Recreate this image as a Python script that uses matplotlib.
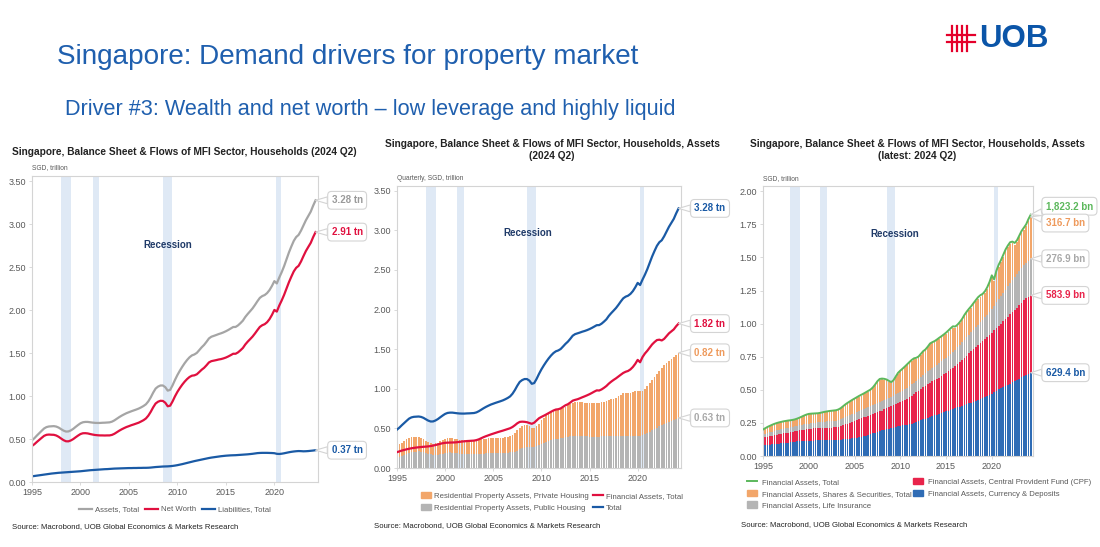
import numpy as np
import matplotlib.pyplot as plt
from matplotlib.lines import Line2D
from matplotlib.patches import Patch

plt.rcParams['font.family'] = ['Liberation Sans', 'DejaVu Sans']

# quarterly data, 1995 Q1 .. 2024 Q2, SGD trillion
first_year = 1995

liabilities = [
    0.066, 0.070, 0.074, 0.078,  # 1995
    0.082, 0.086, 0.090, 0.094,
    0.098, 0.101, 0.104, 0.107,
    0.109, 0.111, 0.113, 0.115,
    0.117, 0.119, 0.121, 0.123,
    0.125, 0.128, 0.131, 0.134,  # 2000
    0.137, 0.139, 0.141, 0.143,
    0.145, 0.147, 0.149, 0.150,
    0.152, 0.154, 0.156, 0.157,
    0.158, 0.159, 0.160, 0.161,
    0.162, 0.162, 0.163, 0.163,  # 2005
    0.164, 0.164, 0.165, 0.165,
    0.166, 0.168, 0.171, 0.174,
    0.176, 0.178, 0.180, 0.181,
    0.182, 0.184, 0.187, 0.191,
    0.196, 0.202, 0.208, 0.215,  # 2010
    0.222, 0.229, 0.236, 0.243,
    0.249, 0.255, 0.261, 0.267,
    0.273, 0.279, 0.284, 0.288,
    0.292, 0.296, 0.300, 0.303,
    0.306, 0.308, 0.310, 0.311,  # 2015
    0.312, 0.314, 0.316, 0.318,
    0.320, 0.322, 0.325, 0.328,
    0.332, 0.336, 0.338, 0.339,
    0.339, 0.339, 0.338, 0.337,
    0.335, 0.328, 0.326, 0.329,  # 2020
    0.334, 0.340, 0.346, 0.351,
    0.355, 0.358, 0.360, 0.359,
    0.357, 0.358, 0.360, 0.363,
    0.366, 0.370,
]

fin_total = [
    0.200, 0.210, 0.220, 0.228,  # 1995
    0.236, 0.243, 0.249, 0.254,
    0.258, 0.262, 0.265, 0.268,
    0.270, 0.273, 0.277, 0.283,
    0.290, 0.298, 0.306, 0.313,
    0.318, 0.320, 0.321, 0.322,  # 2000
    0.323, 0.326, 0.330, 0.334,
    0.337, 0.340, 0.342, 0.344,
    0.346, 0.352, 0.362, 0.376,
    0.390, 0.402, 0.413, 0.424,
    0.434, 0.444, 0.454, 0.463,  # 2005
    0.472, 0.482, 0.492, 0.502,
    0.518, 0.540, 0.565, 0.582,
    0.585, 0.583, 0.578, 0.568,
    0.558, 0.572, 0.600, 0.628,
    0.645, 0.660, 0.676, 0.693,  # 2010
    0.710, 0.726, 0.738, 0.742,
    0.752, 0.772, 0.792, 0.805,
    0.826, 0.850, 0.860, 0.868,
    0.880, 0.893, 0.905, 0.918,
    0.932, 0.948, 0.965, 0.980,  # 2015
    0.978, 0.992, 1.012, 1.035,
    1.065, 1.090, 1.112, 1.132,
    1.155, 1.178, 1.200, 1.215,
    1.225, 1.245, 1.275, 1.315,
    1.365, 1.335, 1.400, 1.445,  # 2020
    1.480, 1.520, 1.560, 1.590,
    1.615, 1.620, 1.610, 1.630,
    1.665, 1.700, 1.725, 1.750,
    1.790, 1.8232,
]

public_housing = [
    0.125, 0.140, 0.155, 0.170,  # 1995
    0.182, 0.192, 0.200, 0.205,
    0.208, 0.210, 0.208, 0.202,
    0.192, 0.182, 0.175, 0.170,
    0.168, 0.170, 0.175, 0.182,
    0.190, 0.195, 0.196, 0.194,  # 2000
    0.190, 0.186, 0.182, 0.180,
    0.178, 0.177, 0.176, 0.176,
    0.176, 0.177, 0.178, 0.180,
    0.182, 0.184, 0.186, 0.188,
    0.190, 0.191, 0.192, 0.192,  # 2005
    0.192, 0.193, 0.194, 0.196,
    0.200, 0.208, 0.220, 0.235,
    0.248, 0.258, 0.265, 0.268,
    0.268, 0.270, 0.278, 0.288,
    0.300, 0.315, 0.330, 0.342,  # 2010
    0.352, 0.360, 0.367, 0.372,
    0.376, 0.381, 0.386, 0.392,
    0.398, 0.404, 0.408, 0.408,
    0.406, 0.403, 0.400, 0.398,
    0.396, 0.395, 0.395, 0.396,  # 2015
    0.397, 0.398, 0.399, 0.400,
    0.400, 0.400, 0.401, 0.402,
    0.404, 0.406, 0.406, 0.405,
    0.404, 0.404, 0.405, 0.406,
    0.408, 0.410, 0.415, 0.425,  # 2020
    0.440, 0.458, 0.478, 0.495,
    0.510, 0.524, 0.537, 0.550,
    0.562, 0.575, 0.590, 0.605,
    0.618, 0.632,
]

private_housing = [
    0.160, 0.160, 0.165, 0.170,  # 1995
    0.178, 0.188, 0.190, 0.187,
    0.182, 0.178, 0.172, 0.163,
    0.153, 0.143, 0.135, 0.135,
    0.142, 0.150, 0.160, 0.168,
    0.175, 0.180, 0.182, 0.183,  # 2000
    0.182, 0.179, 0.176, 0.173,
    0.172, 0.172, 0.172, 0.172,
    0.172, 0.173, 0.177, 0.180,
    0.183, 0.186, 0.188, 0.189,
    0.188, 0.188, 0.187, 0.188,  # 2005
    0.190, 0.193, 0.198, 0.206,
    0.220, 0.237, 0.255, 0.270,
    0.277, 0.282, 0.280, 0.267,
    0.237, 0.230, 0.247, 0.272,
    0.300, 0.320, 0.335, 0.348,  # 2010
    0.358, 0.365, 0.368, 0.370,
    0.374, 0.381, 0.389, 0.398,
    0.407, 0.416, 0.422, 0.424,
    0.424, 0.425, 0.425, 0.425,
    0.426, 0.426, 0.426, 0.427,  # 2015
    0.429, 0.432, 0.437, 0.442,
    0.455, 0.465, 0.474, 0.486,
    0.501, 0.519, 0.536, 0.543,
    0.546, 0.549, 0.553, 0.560,
    0.564, 0.565, 0.563, 0.570,  # 2020
    0.590, 0.612, 0.632, 0.655,
    0.680, 0.706, 0.728, 0.745,
    0.758, 0.770, 0.780, 0.790,
    0.807, 0.822,
]

deposits = [
    0.080, 0.082, 0.084, 0.086,  # 1995
    0.088, 0.090, 0.092, 0.094,
    0.096, 0.098, 0.100, 0.102,
    0.104, 0.106, 0.108, 0.110,
    0.111, 0.112, 0.113, 0.114,
    0.115, 0.116, 0.117, 0.118,  # 2000
    0.118, 0.118, 0.118, 0.118,
    0.118, 0.118, 0.119, 0.120,
    0.121, 0.122, 0.123, 0.125,
    0.127, 0.129, 0.131, 0.133,
    0.135, 0.138, 0.141, 0.145,  # 2005
    0.149, 0.154, 0.159, 0.165,
    0.171, 0.177, 0.183, 0.189,
    0.194, 0.199, 0.203, 0.207,
    0.211, 0.215, 0.219, 0.223,
    0.227, 0.231, 0.234, 0.237,  # 2010
    0.240, 0.245, 0.251, 0.258,
    0.265, 0.271, 0.277, 0.283,
    0.289, 0.295, 0.301, 0.307,
    0.313, 0.319, 0.325, 0.331,
    0.337, 0.343, 0.349, 0.355,  # 2015
    0.361, 0.367, 0.373, 0.379,
    0.385, 0.391, 0.397, 0.403,
    0.410, 0.417, 0.424, 0.431,
    0.438, 0.446, 0.454, 0.462,
    0.472, 0.484, 0.494, 0.503,  # 2020
    0.512, 0.521, 0.530, 0.539,
    0.547, 0.556, 0.565, 0.574,
    0.584, 0.594, 0.604, 0.613,
    0.621, 0.6294,
]

cpf = [
    0.058, 0.060, 0.062, 0.064,  # 1995
    0.066, 0.068, 0.070, 0.071,
    0.072, 0.073, 0.074, 0.075,
    0.076, 0.078, 0.080, 0.082,
    0.084, 0.086, 0.087, 0.088,
    0.089, 0.090, 0.091, 0.092,  # 2000
    0.093, 0.093, 0.094, 0.094,
    0.095, 0.095, 0.096, 0.096,
    0.097, 0.100, 0.104, 0.108,
    0.112, 0.116, 0.120, 0.124,
    0.128, 0.132, 0.136, 0.140,  # 2005
    0.142, 0.144, 0.145, 0.146,
    0.147, 0.148, 0.148, 0.148,
    0.149, 0.153, 0.158, 0.164,
    0.169, 0.172, 0.175, 0.177,
    0.179, 0.185, 0.191, 0.197,  # 2010
    0.204, 0.210, 0.216, 0.222,
    0.229, 0.235, 0.242, 0.248,
    0.255, 0.258, 0.262, 0.265,
    0.268, 0.274, 0.280, 0.287,
    0.293, 0.300, 0.306, 0.312,  # 2015
    0.319, 0.329, 0.339, 0.349,
    0.359, 0.368, 0.378, 0.387,
    0.397, 0.406, 0.415, 0.423,
    0.432, 0.438, 0.445, 0.451,
    0.458, 0.465, 0.473, 0.480,  # 2020
    0.488, 0.497, 0.505, 0.514,
    0.523, 0.531, 0.540, 0.548,
    0.556, 0.564, 0.572, 0.579,
    0.582, 0.5839,
]

life_insurance = [
    0.022, 0.024, 0.026, 0.028,  # 1995
    0.029, 0.030, 0.031, 0.032,
    0.033, 0.034, 0.035, 0.036,
    0.036, 0.036, 0.037, 0.037,
    0.038, 0.038, 0.039, 0.039,
    0.040, 0.041, 0.042, 0.043,  # 2000
    0.044, 0.045, 0.046, 0.047,
    0.048, 0.049, 0.049, 0.050,
    0.050, 0.051, 0.052, 0.053,
    0.054, 0.055, 0.056, 0.057,
    0.058, 0.059, 0.060, 0.061,  # 2005
    0.062, 0.063, 0.065, 0.067,
    0.069, 0.071, 0.072, 0.073,
    0.073, 0.072, 0.071, 0.069,
    0.068, 0.070, 0.072, 0.074,
    0.076, 0.078, 0.080, 0.082,  # 2010
    0.084, 0.086, 0.087, 0.088,
    0.090, 0.092, 0.094, 0.096,
    0.098, 0.100, 0.102, 0.104,
    0.106, 0.108, 0.110, 0.112,
    0.114, 0.116, 0.118, 0.120,  # 2015
    0.123, 0.126, 0.129, 0.132,
    0.135, 0.138, 0.141, 0.144,
    0.147, 0.150, 0.153, 0.156,
    0.160, 0.165, 0.170, 0.176,
    0.180, 0.186, 0.193, 0.200,  # 2020
    0.208, 0.215, 0.222, 0.229,
    0.235, 0.240, 0.245, 0.250,
    0.255, 0.260, 0.265, 0.270,
    0.274, 0.2769,
]

shares = [
    0.037, 0.041, 0.045, 0.047,  # 1995
    0.050, 0.052, 0.053, 0.054,
    0.054, 0.054, 0.053, 0.052,
    0.051, 0.050, 0.049, 0.051,
    0.054, 0.059, 0.064, 0.069,
    0.071, 0.070, 0.068, 0.066,  # 2000
    0.065, 0.067, 0.069, 0.072,
    0.073, 0.075, 0.075, 0.075,
    0.075, 0.076, 0.080, 0.087,
    0.094, 0.099, 0.103, 0.107,
    0.107, 0.109, 0.111, 0.111,  # 2005
    0.113, 0.115, 0.117, 0.118,
    0.125, 0.138, 0.156, 0.166,
    0.163, 0.153, 0.140, 0.122,
    0.104, 0.109, 0.128, 0.148,
    0.157, 0.160, 0.165, 0.171,  # 2010
    0.176, 0.179, 0.178, 0.168,
    0.162, 0.168, 0.173, 0.172,
    0.178, 0.191, 0.189, 0.186,
    0.187, 0.186, 0.184, 0.182,
    0.178, 0.179, 0.182, 0.183,  # 2015
    0.165, 0.160, 0.161, 0.165,
    0.176, 0.183, 0.186, 0.188,
    0.191, 0.195, 0.198, 0.195,
    0.185, 0.186, 0.196, 0.216,
    0.241, 0.186, 0.226, 0.248,  # 2020
    0.258, 0.273, 0.289, 0.294,
    0.296, 0.279, 0.246, 0.244,
    0.256, 0.268, 0.270, 0.274,
    0.297, 0.3167,
]

recession_start = [1998.0, 2001.25, 2008.5, 2020.2]
recession_end = [1999.0, 2001.95, 2009.45, 2020.7]

x_ticks = [1995, 2000, 2005, 2010, 2015, 2020]

# derived totals
fin = np.array(fin_total)
pub = np.array(public_housing)
priv = np.array(private_housing)
assets = fin + pub + priv
liab = np.array(liabilities)
net_worth = assets - liab
dep = np.array(deposits)
cpf_a = np.array(cpf)
life = np.array(life_insurance)
shr = np.array(shares)
t = first_year + np.arange(len(fin)) / 4.0

# colours
C_GRAY_LINE = '#a5a5a5'
C_RED = '#e0103f'
C_BLUE = '#1a5aa5'
C_ORANGE = '#f2a66a'
C_GRAYBAR = '#b4b4b4'
C_GREEN = '#5cb85c'
C_REDBAR = '#e8244b'
C_BLUEBAR = '#2f6cb5'
C_REC = '#dfe9f5'
C_TXT = '#595959'
C_EDGE = '#d4d4d4'

W, H = 1100, 547
fig = plt.figure(figsize=(W / 100, H / 100), dpi=100)
fig.patch.set_facecolor('white')


def px_axes(left, top, right, bottom):
    return fig.add_axes([left / W, 1 - bottom / H, (right - left) / W, (bottom - top) / H])


def style_axes(ax, ymax, ystep, unit_text):
    ax.set_xlim(1995, 2024.5)
    ax.set_ylim(0, ymax)
    for s in ax.spines.values():
        s.set_color(C_EDGE)
        s.set_linewidth(0.8)
    ax.set_xticks(x_ticks)
    yt = np.arange(0, ymax, ystep)
    ax.set_yticks(yt)
    ax.set_yticklabels(['%.2f' % v for v in yt])
    ax.tick_params(axis='both', labelsize=6.5, colors=C_TXT, length=2.5, width=0.6, pad=2)
    ax.tick_params(axis='both', color=C_EDGE)
    for a, b in zip(recession_start, recession_end):
        ax.axvspan(a, b, color=C_REC, lw=0, zorder=0)
    ax.text(0.0, 1.015, unit_text, transform=ax.transAxes, fontsize=4.8, color=C_TXT,
            ha='left', va='bottom')


def callout(ax, x, y, text, color, ty=None, fs=7):
    ax.annotate(text, xy=(x, y), xytext=(2025.9, y if ty is None else ty),
                ha='left', va='center', fontsize=fs, fontweight='bold', color=color,
                annotation_clip=False, zorder=10,
                bbox=dict(boxstyle='round,pad=0.4', fc='white', ec=C_EDGE, lw=0.8),
                arrowprops=dict(arrowstyle='wedge,tail_width=0.7', fc='white', ec=C_EDGE,
                                lw=0.8, shrinkA=0, shrinkB=0))


# ---- header ----
fig.text(57 / W, 1 - 57 / H, 'Singapore: Demand drivers for property market',
         fontsize=20.1, color='#1f5fae', ha='left', va='center')
fig.text(65 / W, 1 - 109 / H,
         'Driver #3: Wealth and net worth \u2013 low leverage and highly liquid',
         fontsize=15.6, color='#1f5fae', ha='left', va='center')

# logo
for xv in [951.5, 956.5, 961.5, 966.5]:
    fig.add_artist(Line2D([xv / W, xv / W], [1 - 26 / H, 1 - 51 / H], color='#e4002b', lw=1.6))
for yv in [35, 42]:
    fig.add_artist(Line2D([947 / W, 975 / W], [1 - yv / H, 1 - yv / H], color='#e4002b', lw=1.6))
fig.text(979 / W, 1 - 39 / H, 'UOB', fontsize=22.5, fontweight='bold', color='#0b55a8',
         ha='left', va='center')

src = 'Source: Macrobond, UOB Global Economics & Markets Research'
leg_kw = dict(frameon=False, fontsize=5.6, labelcolor=C_TXT)

# ---- panel 1 ----
ax1 = px_axes(32, 176, 318, 482)
style_axes(ax1, 3.56, 0.5, 'SGD, trillion')
ax1.plot(t, assets, color=C_GRAY_LINE, lw=1.6, label='Assets, Total')
ax1.plot(t, net_worth, color=C_RED, lw=1.6, label='Net Worth')
ax1.plot(t, liab, color=C_BLUE, lw=1.6, label='Liabilities, Total')
ax1.text(2009.0, 2.76, 'Recession', fontsize=7, fontweight='bold', color='#1f3a68',
         ha='center', va='center')
callout(ax1, t[-1], assets[-1], '%.2f tn' % assets[-1], '#9a9a9a')
callout(ax1, t[-1], net_worth[-1], '%.2f tn' % net_worth[-1], C_RED)
callout(ax1, t[-1], liab[-1], '%.2f tn' % liab[-1], C_BLUE)
ax1.legend(loc='upper center', bbox_to_anchor=(0.5, -0.055), ncol=3,
           handlelength=1.6, handletextpad=0.4, columnspacing=0.8, **leg_kw)
fig.text(12 / W, 1 - 527 / H, src, fontsize=5.6, color='#222222', ha='left', va='center')
fig.text(184 / W, 1 - 152 / H,
         'Singapore, Balance Sheet & Flows of MFI Sector, Households (2024 Q2)',
         fontsize=7.3, fontweight='bold', color='#222222', ha='center', va='center')

# ---- panel 2 ----
ax2 = px_axes(397, 186, 681, 468)
style_axes(ax2, 3.56, 0.5, 'Quarterly, SGD, trillion')
bw = 0.18
ax2.bar(t, pub, width=bw, color=C_GRAYBAR, lw=0, zorder=2)
ax2.bar(t, priv, width=bw, bottom=pub, color=C_ORANGE, lw=0, zorder=2)
ax2.plot(t, fin, color=C_RED, lw=1.6, zorder=3)
ax2.plot(t, assets, color=C_BLUE, lw=1.6, zorder=3)
ax2.text(2008.6, 2.97, 'Recession', fontsize=7, fontweight='bold', color='#1f3a68',
         ha='center', va='center')
callout(ax2, t[-1], assets[-1], '%.2f tn' % assets[-1], C_BLUE)
callout(ax2, t[-1], fin[-1], '%.2f tn' % fin[-1], C_RED)
callout(ax2, t[-1], pub[-1] + priv[-1], '%.2f tn' % priv[-1], '#ee9a5c')
callout(ax2, t[-1], pub[-1], '%.2f tn' % pub[-1], '#a8a8a8')
h2 = [Patch(color=C_ORANGE, label='Residential Property Assets, Private Housing'),
      Patch(color=C_GRAYBAR, label='Residential Property Assets, Public Housing'),
      Line2D([], [], color=C_RED, lw=1.6, label='Financial Assets, Total'),
      Line2D([], [], color=C_BLUE, lw=1.6, label='Total')]
ax2.legend(handles=h2, loc='upper left', bbox_to_anchor=(0.06, -0.06), ncol=2,
           handlelength=1.3, handleheight=0.9, handletextpad=0.4, columnspacing=0.5,
           labelspacing=0.5, **leg_kw)
fig.text(374 / W, 1 - 526 / H, src, fontsize=5.6, color='#222222', ha='left', va='center')
fig.text(552 / W, 1 - 150 / H,
         'Singapore, Balance Sheet & Flows of MFI Sector, Households, Assets\n(2024 Q2)',
         fontsize=7.3, fontweight='bold', color='#222222', ha='center', va='center',
         linespacing=1.15)

# ---- panel 3 ----
ax3 = px_axes(763, 186, 1033, 456)
style_axes(ax3, 2.04, 0.25, 'SGD, trillion')
b1 = dep
b2 = b1 + cpf_a
b3 = b2 + life
ax3.bar(t, dep, width=bw, color=C_BLUEBAR, lw=0, zorder=2)
ax3.bar(t, cpf_a, width=bw, bottom=b1, color=C_REDBAR, lw=0, zorder=2)
ax3.bar(t, life, width=bw, bottom=b2, color=C_GRAYBAR, lw=0, zorder=2)
ax3.bar(t, shr, width=bw, bottom=b3, color=C_ORANGE, lw=0, zorder=2)
ax3.plot(t, fin, color=C_GREEN, lw=1.4, zorder=3)
ax3.text(2009.4, 1.68, 'Recession', fontsize=7, fontweight='bold', color='#1f3a68',
         ha='center', va='center')
callout(ax3, t[-1], fin[-1], '{:,.1f} bn'.format(fin[-1] * 1000), C_GREEN, ty=1.887)
callout(ax3, t[-1], b3[-1] + shr[-1], '{:,.1f} bn'.format(shr[-1] * 1000), '#ee9a5c', ty=1.76)
callout(ax3, t[-1], b3[-1], '{:,.1f} bn'.format(life[-1] * 1000), '#a8a8a8')
callout(ax3, t[-1], b2[-1], '{:,.1f} bn'.format(cpf_a[-1] * 1000), C_REDBAR)
callout(ax3, t[-1], b1[-1], '{:,.1f} bn'.format(dep[-1] * 1000), C_BLUE)
h3 = [Line2D([], [], color=C_GREEN, lw=1.4, label='Financial Assets, Total'),
      Patch(color=C_ORANGE, label='Financial Assets, Shares & Securities, Total'),
      Patch(color=C_GRAYBAR, label='Financial Assets, Life Insurance'),
      Patch(color=C_REDBAR, label='Financial Assets, Central Provident Fund (CPF)'),
      Patch(color=C_BLUEBAR, label='Financial Assets, Currency & Deposits')]
ax3.legend(handles=h3, loc='upper left', bbox_to_anchor=(-0.085, -0.055), ncol=2,
           handlelength=1.3, handleheight=0.9, handletextpad=0.6, columnspacing=0.2,
           labelspacing=0.5, **leg_kw)
fig.text(741 / W, 1 - 525 / H, src, fontsize=5.6, color='#222222', ha='left', va='center')
fig.text(917 / W, 1 - 150 / H,
         'Singapore, Balance Sheet & Flows of MFI Sector, Households, Assets\n(latest: 2024 Q2)',
         fontsize=7.3, fontweight='bold', color='#222222', ha='center', va='center',
         linespacing=1.15)

fig.savefig('out.png', dpi=100)
